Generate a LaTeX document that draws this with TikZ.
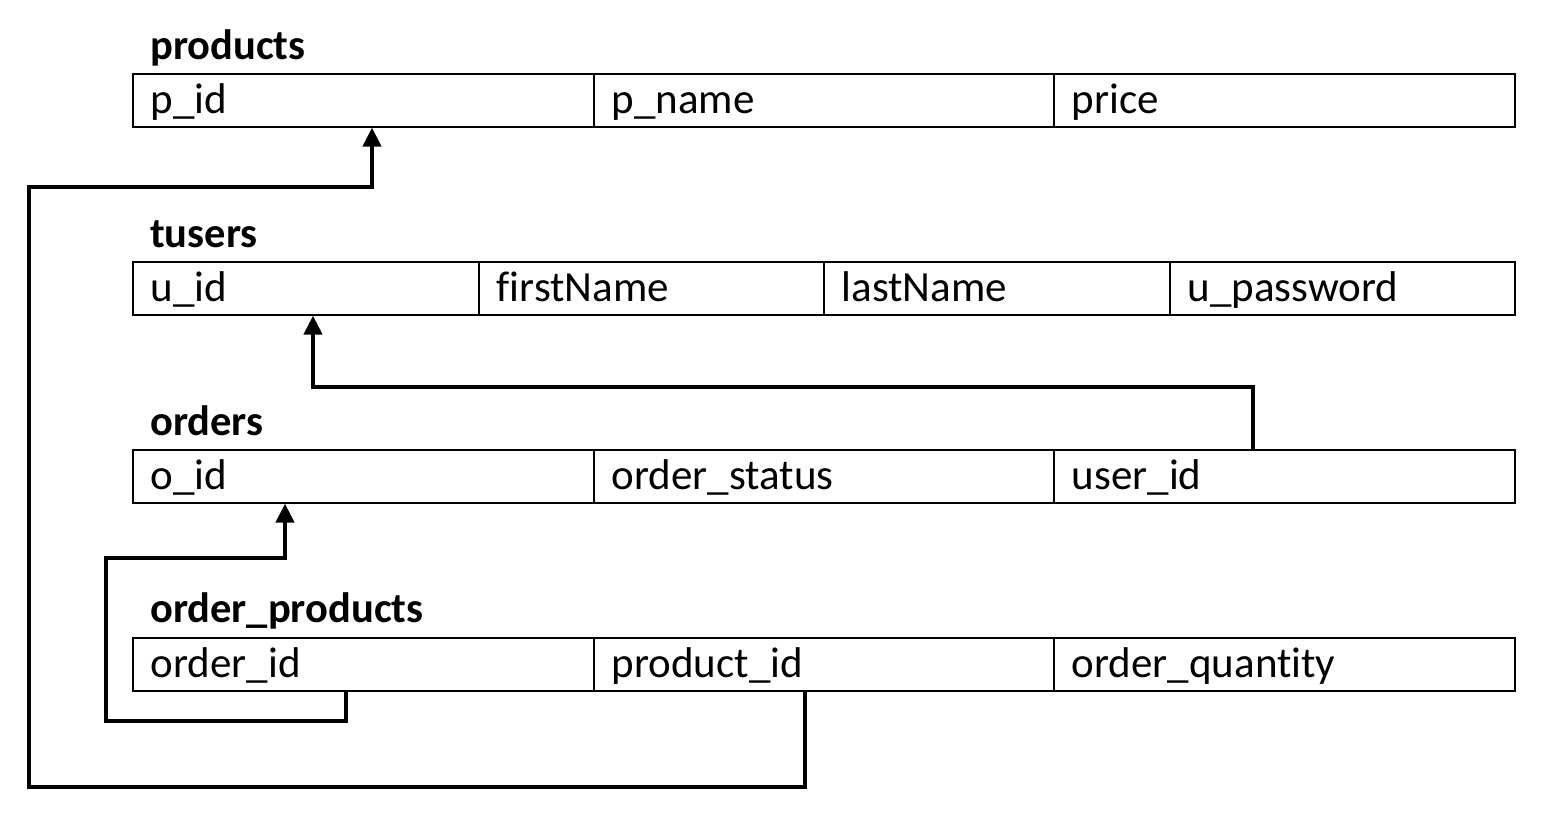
\documentclass[tikz,border=0pt]{standalone}
\usepackage{fontspec}
\setmainfont{Carlito}[Ligatures=NoCommon]
\usetikzlibrary{arrows.meta,calc}
\begin{document}
\begin{tikzpicture}[x=1pt,y=-1pt,
  cell/.style={draw=black,line width=1.6pt,anchor=north west,minimum height=53pt,
    inner xsep=18pt,inner ysep=0pt,align=left,text height=32pt,text depth=5pt,font=\fontsize{43}{43}\selectfont},
  title/.style={anchor=base west,inner sep=0pt,font=\bfseries\fontsize{42.5}{42.5}\selectfont},
  link/.style={line width=4.3pt,-{Triangle[width=18pt,length=19pt]}}]
\useasboundingbox (0,0) rectangle (1558,814);
% products
\node[title] (tprod) at (150,59) {products};
\node[cell,text width=425pt] (pid) at (132,73) {p\_id};
\node[cell,text width=424pt] (pname) at (593,73) {p\_name};
\node[cell,text width=425pt] (price) at (1053,73) {price};
% tusers
\node[title] (tusers) at (150,247) {tusers};
\node[cell,text width=310pt] (uid) at (132,261) {u\_id};
\node[cell,text width=309pt] (fname) at (478,261) {firstName};
\node[cell,text width=310pt] (lname) at (823,261) {lastName};
\node[cell,text width=309pt] (upass) at (1169,261) {u\_password};
% orders
\node[title] (torders) at (150,435) {orders};
\node[cell,text width=425pt] (oid) at (132,449) {o\_id};
\node[cell,text width=424pt] (ostatus) at (593,449) {order\_status};
\node[cell,text width=425pt] (userid) at (1053,449) {user\_id};
% order_products
\node[title] (top) at (150,622) {order\_products};
\node[cell,text width=425pt] (orderid) at (132,637) {order\_id};
\node[cell,text width=424pt] (productid) at (593,637) {product\_id};
\node[cell,text width=425pt] (oqty) at (1053,637) {order\_quantity};
% connectors
\draw[link] (productid.south west -| 805,0) -- (805,787) -- (29,787) -- (29,187) -- (372,187) -- (pid.south west -| 372,0);
\draw[link] (orderid.south west -| 346,0) -- (346,721) -- (106,721) -- (106,558) -- (285,558) -- (oid.south west -| 285,0);
\draw[link] (userid.north west -| 1253,0) -- (1253,387) -- (313,387) -- (uid.south west -| 313,0);
\end{tikzpicture}
\end{document}
